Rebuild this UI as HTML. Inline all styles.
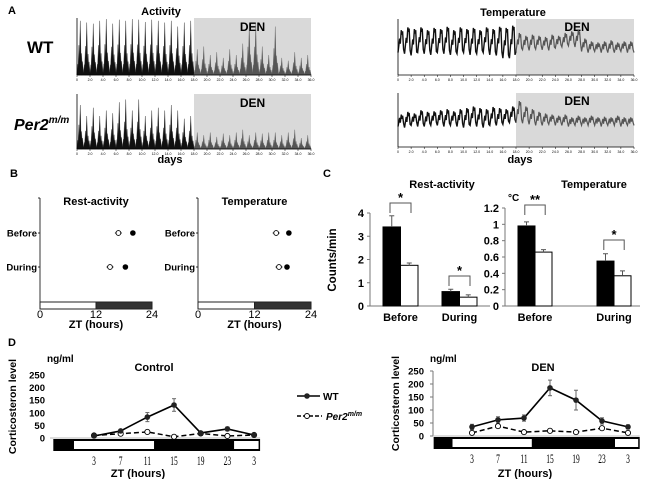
<!DOCTYPE html>
<html><head><meta charset="utf-8">
<style>
html,body{margin:0;padding:0;background:#fff;}
svg{display:block;font-family:"Liberation Sans",Arial,sans-serif;}
.b{font-weight:bold;}
</style></head>
<body>
<svg id="fig" width="650" height="479" viewBox="0 0 650 479">
<g id="A">
<text x="8" y="14" class="b" font-size="11">A</text>
<text x="161" y="15" class="b" font-size="11" text-anchor="middle">Activity</text>
<text x="513" y="16" class="b" font-size="11" text-anchor="middle">Temperature</text>
<text x="27" y="53" class="b" font-size="17">WT</text>
<text x="14" y="130" class="b" font-size="16" font-style="italic">Per2<tspan font-size="10" dy="-7">m/m</tspan></text>
<text x="170" y="163" class="b" font-size="11" text-anchor="middle">days</text>
<text x="520" y="163" class="b" font-size="11" text-anchor="middle">days</text>
</g>
<g id="B">
<text x="10" y="177" class="b" font-size="11">B</text>
</g>
<g id="C">
<text x="323" y="177" class="b" font-size="11">C</text>
</g>
<g id="D">
<text x="8" y="346" class="b" font-size="11">D</text>
</g>
</svg>
<script>
// ---- Panel A data (normalized daily peaks) ----
const actWT = [0.95,0.92,0.9,0.95,0.98,0.9,0.97,0.95,0.98,0.97,0.93,0.97,0.95,0.92,0.95,0.85,0.92,0.95,0.45,0.5,0.35,0.4,0.3,0.45,0.35,0.55,0.9,0.9,0.5,0.35,0.85,0.3,0.25,0.4,0.3,0.35];
const actPer2 = [0.8,0.6,0.75,0.6,0.7,0.65,0.85,0.9,0.7,0.9,0.6,0.7,0.75,0.7,0.8,0.7,0.55,0.6,0.3,0.25,0.3,0.22,0.28,0.25,0.3,0.35,0.25,0.3,0.28,0.3,0.3,0.25,0.3,0.35,0.2,0.25];
const tmaxWT = [0.8,0.85,0.82,0.85,0.8,0.84,0.82,0.86,0.8,0.85,0.82,0.84,0.8,0.85,0.82,0.86,0.84,0.88,0.75,0.7,0.72,0.7,0.68,0.72,0.7,0.75,0.78,0.8,0.65,0.6,0.58,0.6,0.62,0.58,0.6,0.6];
const tminWT = [0.4,0.38,0.35,0.4,0.38,0.36,0.4,0.38,0.36,0.38,0.4,0.36,0.38,0.4,0.36,0.35,0.3,0.3,0.42,0.45,0.44,0.46,0.45,0.44,0.48,0.5,0.52,0.5,0.42,0.4,0.42,0.4,0.4,0.4,0.42,0.4];
const tmaxPer2 = [0.6,0.65,0.62,0.68,0.65,0.66,0.68,0.7,0.66,0.7,0.72,0.75,0.72,0.7,0.74,0.72,0.7,0.75,0.85,0.75,0.7,0.65,0.62,0.6,0.58,0.6,0.55,0.58,0.55,0.58,0.55,0.56,0.55,0.58,0.55,0.55];
const tminPer2 = [0.38,0.36,0.4,0.38,0.38,0.4,0.4,0.38,0.4,0.38,0.36,0.4,0.38,0.36,0.4,0.4,0.42,0.45,0.45,0.44,0.42,0.4,0.4,0.42,0.4,0.4,0.38,0.4,0.4,0.4,0.4,0.38,0.4,0.4,0.38,0.4];
const dayTicks = ["0","2.0","4.0","6.0","8.0","10.0","12.0","14.0","16.0","18.0","20.0","22.0","24.0","26.0","28.0","30.0","32.0","34.0","36.0"];
const denStartDay = 18;
// ---- Panel B data ----
const phaseRows = ["Before","During"];
const phaseActWT = [19.9,18.3];
const phaseActPer2 = [16.8,15.0];
const phaseTempWT = [19.3,18.9];
const phaseTempPer2 = [16.6,17.2];
const zTicks = [0,12,24];
// ---- Panel C data ----
const cCats = ["Before","During"];
const restWT = [3.4,0.62];
const restWTErr = [0.48,0.1];
const restPer2 = [1.75,0.38];
const restPer2Err = [0.1,0.1];
const restTicks = [0,1,2,3,4];
const restSig = ["*","*"];
const tempWT = [0.98,0.55];
const tempWTErr = [0.05,0.09];
const tempPer2 = [0.66,0.37];
const tempPer2Err = [0.03,0.06];
const tempTicks = [0,0.2,0.4,0.6,0.8,1,1.2];
const tempSig = ["**","*"];
// ---- Panel D data ----
const zt = [3,7,11,15,19,23,27];
const ctlWT = [8,28,83,131,20,36,12];
const ctlWTErr = [2,6,18,25,3,8,3];
const ctlPer2 = [10,17,24,5,18,8,12];
const denWT = [35,62,69,185,138,58,35];
const denWTErr = [10,12,12,30,38,12,8];
const denPer2 = [12,38,15,20,15,30,12];
const yTicksD = [0,50,100,150,200,250];

const NS="http://www.w3.org/2000/svg";
const svg=document.getElementById('fig');
function mk(tag,attrs,parent,text){const e=document.createElementNS(NS,tag);for(const k in attrs)e.setAttribute(k,attrs[k]);if(text!==undefined)e.textContent=text;(parent||svg).appendChild(e);return e;}

// ===== Panel A =====
function actogram(x0,x1,yT,yB,vals,name){
  const g=mk('g',{},document.getElementById('A'));
  
  
  const n=vals.length, dw=(x1-x0)/n;
  const xd=d=>x0+d*dw;
  const y=v=>yB-v*(yB-yT);
  const den=mk('rect',{x:xd(denStartDay),y:yT,width:x1-xd(denStartDay),height:yB-yT,fill:'#d9d9d9'},g);
  
  
  const dl=mk('text',{x:(xd(denStartDay)+x1)/2,y:yT+13,'font-size':12,'font-weight':'bold','text-anchor':'middle'},g,'DEN');
  
  
  vals.forEach((v,i)=>{
    const col=i<denStartDay?'#111':'#555';
    const s=[[0.5,1],[0.3,0.55],[0.7,0.4],[0.15,0.2],[0.85,0.25]];
    s.forEach(([o,f])=>{
      const cx=xd(i+o);
      const p=mk('path',{d:`M${cx-1.2},${yB} L${cx},${y(v*f)} L${cx+1.2},${yB} Z`,fill:col,stroke:col,'stroke-width':0.3},g);
      
      
    });
  });
  axesA(g,x0,x1,yT,yB);
}
function axesA(g,x0,x1,yT,yB){
  mk('line',{x1:x0,y1:yT,x2:x0,y2:yB,stroke:'#000','stroke-width':0.8},g);
  mk('line',{x1:x0,y1:yB,x2:x1,y2:yB,stroke:'#000','stroke-width':0.8},g);
  dayTicks.forEach((t,i)=>{
    const x=x0+i*(x1-x0)/(dayTicks.length-1);
    mk('line',{x1:x,y1:yB,x2:x,y2:yB+2,stroke:'#000','stroke-width':0.5},g);
    const tl=mk('text',{x:x,y:yB+6,'font-size':3.5,'text-anchor':'middle'},g,t);
    
    
  });
}
function tempTrace(x0,x1,yT,yB,mx,mn,name){
  const g=mk('g',{},document.getElementById('A'));
  
  
  const n=mx.length, dw=(x1-x0)/n;
  const xd=d=>x0+d*dw;
  const y=v=>yB-v*(yB-yT);
  const den=mk('rect',{x:xd(denStartDay),y:yT,width:x1-xd(denStartDay),height:yB-yT,fill:'#d9d9d9'},g);
  
  
  const dl=mk('text',{x:(xd(denStartDay)+x1)/2+2,y:yT+12,'font-size':12,'font-weight':'bold','text-anchor':'middle'},g,'DEN');
  
  
  let d1='',d2='';
  mx.forEach((v,i)=>{
    const seg=`${i==0||i==denStartDay?'M':'L'}${xd(i)},${y(mn[i])} L${xd(i+0.25)},${y((mn[i]+v)/2+0.05)} L${xd(i+0.35)},${y((mn[i]+v)/2-0.04)} L${xd(i+0.5)},${y(v)} L${xd(i+0.6)},${y(v-0.08)} L${xd(i+0.7)},${y(v-0.02)} L${xd(i+0.85)},${y(mn[i]+0.06)} L${xd(i+1)},${y(mn[i+1]!==undefined?mn[i+1]:mn[i])} `;
    if(i<denStartDay)d1+=seg;else d2+=seg;
  });
  const p1=mk('path',{d:d1,fill:'none',stroke:'#111','stroke-width':1.4},g);
  
  
  const p2=mk('path',{d:d2,fill:'none',stroke:'#555','stroke-width':1.2},g);
  
  
  axesA(g,x0,x1,yT,yB);
}
actogram(77,311,18,75,actWT,'activity-wt');
actogram(77,311,94,149,actPer2,'activity-per2');
tempTrace(398,634,19,75,tmaxWT,tminWT,'temperature-wt');
tempTrace(398,634,93,147,tmaxPer2,tminPer2,'temperature-per2');

// ===== Panel B =====
function phasePlot(ax0,ax1,title,wt,per,name){
  const g=mk('g',{},document.getElementById('B'));
  
  
  const yTop=198,yB=302,rowY=[233,267];
  const x=h=>ax0+h/24*(ax1-ax0);
  mk('line',{x1:ax0,y1:yTop,x2:ax0,y2:yB,stroke:'#000','stroke-width':0.8},g);
  mk('line',{x1:ax0-2,y1:yTop,x2:ax0,y2:yTop,stroke:'#000','stroke-width':0.8},g);
  const t=mk('text',{x:(ax0+ax1)/2,y:205,'font-size':11,'font-weight':'bold','text-anchor':'middle'},g,title);
  
  
  const w=mk('rect',{x:x(0),y:302,width:x(12)-x(0),height:7,fill:'#fff',stroke:'#222','stroke-width':1},g);
  
  
  const dk=mk('rect',{x:x(12),y:302,width:x(24)-x(12),height:7,fill:'#333',stroke:'#222','stroke-width':1},g);
  
  
  zTicks.forEach(h=>{
    const tl=mk('text',{x:x(h),y:318,'font-size':11,'text-anchor':'middle'},g,String(h));
    
    
  });
  const xl=mk('text',{x:x(12),y:328,'font-size':11,'font-weight':'bold','text-anchor':'middle'},g,'ZT (hours)');
  
  
  phaseRows.forEach((r,i)=>{
    mk('line',{x1:ax0-2,y1:rowY[i],x2:ax0,y2:rowY[i],stroke:'#000','stroke-width':0.8},g);
    const rl=mk('text',{x:ax0-3,y:rowY[i]+3.5,'font-size':9.5,'font-weight':'bold','text-anchor':'end'},g,r);
    
    
    mk('line',{x1:x(per[i])-3.5,y1:rowY[i],x2:x(per[i])+3.5,y2:rowY[i],stroke:'#000','stroke-width':0.8},g);
    const pc=mk('circle',{cx:x(per[i]),cy:rowY[i],r:2.4,fill:'#fff',stroke:'#000','stroke-width':0.9},g);
    
    
    const wc=mk('circle',{cx:x(wt[i]),cy:rowY[i],r:2.8,fill:'#000'},g);
    
    
  });
}
phasePlot(40,152,'Rest-activity',phaseActWT,phaseActPer2,'phase-rest-activity');
phasePlot(198,311,'Temperature',phaseTempWT,phaseTempPer2,'phase-temperature');

// ===== Panel C =====
function barChart(ax,xEnd,y0,yTopV,yTopPx,ticks,wt,wtE,per,perE,barX,bw,title,titleX,sig,sigY,name,fmt){
  const g=mk('g',{},document.getElementById('C'));
  
  
  const y=v=>y0-v/yTopV*(y0-yTopPx);
  mk('line',{x1:ax,y1:y(ticks[ticks.length-1]),x2:ax,y2:y0,stroke:'#777','stroke-width':1},g);
  mk('line',{x1:ax,y1:y0,x2:xEnd,y2:y0,stroke:'#777','stroke-width':1},g);
  ticks.forEach(t=>{
    mk('line',{x1:ax-3,y1:y(t),x2:ax,y2:y(t),stroke:'#777','stroke-width':1},g);
    const tl=mk('text',{x:ax-6,y:y(t)+4,'font-size':11,'font-weight':'bold','text-anchor':'end'},g,fmt(t));
    
    
  });
  const tt=mk('text',{x:titleX,y:188,'font-size':11,'font-weight':'bold','text-anchor':'middle'},g,title);
  
  
  cCats.forEach((c,i)=>{
    const bx=barX[i];
    const r1=mk('rect',{x:bx,y:y(wt[i]),width:bw,height:y0-y(wt[i]),fill:'#000',stroke:'#000'},g);
    
    
    const r2=mk('rect',{x:bx+bw,y:y(per[i]),width:bw,height:y0-y(per[i]),fill:'#fff',stroke:'#000'},g);
    
    
    [[bx+bw/2,wt[i],wtE[i]],[bx+1.5*bw,per[i],perE[i]]].forEach(([cx,v,e])=>{
      mk('line',{x1:cx,y1:y(v),x2:cx,y2:y(v+e),stroke:'#555','stroke-width':1},g);
      mk('line',{x1:cx-2.5,y1:y(v+e),x2:cx+2.5,y2:y(v+e),stroke:'#555','stroke-width':1},g);
    });
    const cl=mk('text',{x:bx+bw,y:y0+15,'font-size':11,'font-weight':'bold','text-anchor':'middle'},g,c);
    
    
    const by=sigY(i), l=bx+bw*0.4, r=bx+bw*1.6;
    const br=mk('path',{d:`M${l},${by+10} L${l},${by} L${r},${by} L${r},${by+10}`,fill:'none',stroke:'#555','stroke-width':1},g);
    
    
    const st=mk('text',{x:(l+r)/2,y:by-1,'font-size':13,'font-weight':'bold','text-anchor':'middle'},g,sig[i]);
    
    
  });
}
barChart(370,490,306,4,213,restTicks,restWT,restWTErr,restPer2,restPer2Err,[383,442],17.5,'Rest-activity',442,restSig,i=>[203,276][i],'rest-activity-bars',t=>String(t));
barChart(505,640,306,1.2,208,tempTicks,tempWT,tempWTErr,tempPer2,tempPer2Err,[518,597],17,'Temperature',594,tempSig,i=>[205,240][i],'temperature-bars',t=>String(t));
(function(){
  const g=document.getElementById('C');
  const yl=mk('text',{transform:'translate(336,260) rotate(-90)','font-size':11.5,'font-weight':'bold','text-anchor':'middle'},g,'Counts/min');
  
  
  const cu=mk('text',{x:508,y:201,'font-size':10,'font-weight':'bold'},g,'°C');
  
  
})();

// ===== Panel D =====
function linePlot(o){
  const g=mk('g',{},document.getElementById('D'));
  
  
  const x=h=>o.x3+(h-3)*o.pxPerH;
  const y=v=>o.y0-v/250*(o.y0-o.y250);
  if(o.axisLine){
    mk('line',{x1:o.ax,y1:o.y250,x2:o.ax,y2:o.y0,stroke:'#777','stroke-width':1},g);
  }
  mk('line',{x1:o.ax,y1:o.y0,x2:x(o.barEnd),y2:o.y0,stroke:'#bbb','stroke-width':1},g);
  yTicksD.forEach(t=>{
    if(o.axisLine) mk('line',{x1:o.ax-3,y1:y(t),x2:o.ax,y2:y(t),stroke:'#777','stroke-width':1},g);
    const tl=mk('text',{x:o.tickX,y:y(t)+3.5,'font-size':9.5,'font-weight':'bold','text-anchor':'end'},g,String(t));
    
    
  });
  const bar=mk('rect',{x:x(o.barStart),y:o.y0+1,width:x(o.barEnd)-x(o.barStart),height:12,fill:'#000'},g);
  
  
  o.light.forEach(([a,b])=>{
    const w=mk('rect',{x:x(a),y:o.y0+3,width:Math.min(x(b),x(o.barEnd)-1.5)-x(a),height:8,fill:'#fff'},g);
    
    
  });
  zt.forEach(h=>{
    const yy=o.y0+27;
    const tl=mk('text',{x:x(h),y:yy,'font-size':10,'text-anchor':'middle','font-family':'"Liberation Serif",serif',transform:`translate(${x(h)},${yy}) scale(0.75,1.25) translate(${-x(h)},${-yy})`},g,String(h%24));
    
    
  });
  const xl=mk('text',{x:o.xTitle,y:477,'font-size':11,'font-weight':'bold','text-anchor':'middle'},g,'ZT (hours)');
  
  
  const tt=mk('text',{x:o.titleX,y:371,'font-size':11,'font-weight':'bold','text-anchor':'middle'},g,o.title);
  
  
  const un=mk('text',{x:o.unitX,y:362,'font-size':10,'font-weight':'bold'},g,'ng/ml');
  
  
  const yl=mk('text',{transform:`translate(${o.ylX},${(o.y0+o.y250)/2}) rotate(-90)`,'font-size':10.5,'font-weight':'bold','text-anchor':'middle'},g,'Corticosteron level');
  
  
  const pp=mk('polyline',{points:zt.map((h,i)=>x(h)+','+y(o.per[i])).join(' '),fill:'none',stroke:'#000','stroke-width':1.5,'stroke-dasharray':'5,3'},g);
  
  
  const wl=mk('polyline',{points:zt.map((h,i)=>x(h)+','+y(o.wt[i])).join(' '),fill:'none',stroke:'#000','stroke-width':1.6},g);
  
  
  zt.forEach((h,i)=>{
    const cx=x(h),v=o.wt[i],e=o.err[i];
    mk('line',{x1:cx,y1:y(v-e),x2:cx,y2:y(v+e),stroke:'#666','stroke-width':1},g);
    mk('line',{x1:cx-2,y1:y(v+e),x2:cx+2,y2:y(v+e),stroke:'#666','stroke-width':1},g);
    mk('line',{x1:cx-2,y1:y(v-e),x2:cx+2,y2:y(v-e),stroke:'#666','stroke-width':1},g);
    const pc=mk('circle',{cx:cx,cy:y(o.per[i]),r:2.6,fill:'#fff',stroke:'#000','stroke-width':0.9},g);
    
    
    const wc=mk('circle',{cx:cx,cy:y(v),r:2.8,fill:'#222'},g);
    
    
  });
}
linePlot({name:'control-plot',axisLine:false,ax:50,tickX:45,y0:438,y250:375,x3:94,pxPerH:6.67,barStart:-3.1,barEnd:27.9,light:[[0,12],[24,30]],wt:ctlWT,err:ctlWTErr,per:ctlPer2,xTitle:138,title:'Control',titleX:154,unitX:47,ylX:16});
linePlot({name:'den-plot',axisLine:true,ax:433,tickX:424,y0:436,y250:371,x3:472,pxPerH:6.5,barStart:-2.9,barEnd:28.8,light:[[0,12.2],[25,30]],wt:denWT,err:denWTErr,per:denPer2,xTitle:525,title:'DEN',titleX:543,unitX:430,ylX:399});
(function(){
  const g=document.getElementById('D');
  const l1=mk('line',{x1:297,y1:396,x2:320,y2:396,stroke:'#000','stroke-width':1.6},g);
  
  
  mk('circle',{cx:307,cy:396,r:2.8,fill:'#222'},g);
  const t1=mk('text',{x:323,y:400,'font-size':10,'font-weight':'bold'},g,'WT');
  
  
  const l2=mk('line',{x1:297,y1:416,x2:322,y2:416,stroke:'#000','stroke-width':1.5,'stroke-dasharray':'4,2'},g);
  
  
  mk('circle',{cx:307,cy:416,r:2.5,fill:'#fff',stroke:'#000','stroke-width':0.9},g);
  const t2=mk('text',{x:326,y:420,'font-size':10,'font-weight':'bold','font-style':'italic'},g,'');
  
  
  t2.innerHTML='Per2<tspan font-size="7" dy="-4">m/m</tspan>';
})();
</script>
</body></html>
